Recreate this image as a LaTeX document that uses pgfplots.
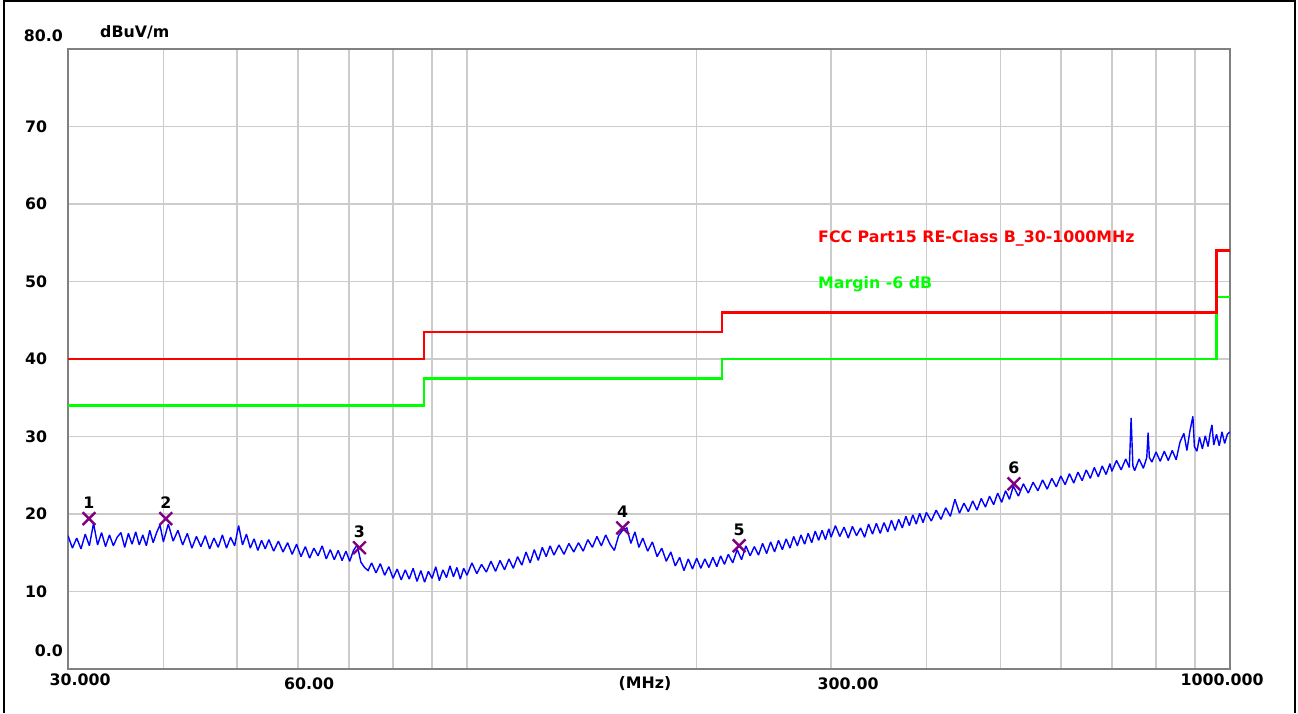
\documentclass[border=0pt]{standalone}
\usepackage{pgfplots}
\pgfplotsset{compat=1.18}
\usepackage{fontspec}
\setmainfont{DejaVu Sans}
\definecolor{gridgray}{RGB}{204,204,204}
\definecolor{framegray}{RGB}{128,128,128}
\definecolor{mk}{RGB}{128,0,128}
\definecolor{limred}{RGB}{255,0,0}
\definecolor{limgreen}{RGB}{0,255,0}
\definecolor{trace}{RGB}{0,0,255}
\begin{document}
\begin{tikzpicture}[lbl/.style={font=\bfseries\fontsize{15.8}{18}\selectfont, inner sep=0pt}]
\useasboundingbox (0pt,0pt) rectangle (1298pt,713pt);
\fill[white] (0pt,0pt) rectangle (1298pt,713pt);
\draw[black, line width=2.5pt] (4pt,0pt) -- (4pt,712pt) -- (1295pt,712pt) -- (1295pt,0pt);
\begin{axis}[
  scale only axis, width=1162pt, height=620pt,
  at={(68pt,44pt)}, anchor=south west,
  xmode=log, xmin=30, xmax=1000, ymin=0, ymax=80,
  xtick={30,40,50,60,70,80,90,100,200,300,400,500,600,700,800,900,1000},
  ytick={0,10,20,30,40,50,60,70,80},
  xticklabels={}, yticklabels={},
  major tick length=0pt, minor tick length=0pt,
  grid=major,
  major grid style={draw=gridgray, line width=1.6pt},
  axis line style={draw=framegray, line width=2.8pt},
]
\addplot[limgreen, line width=2.4pt] coordinates {(30,34)(87.9,34)(87.9,37.5)(216,37.5)(216,40)(960,40)(960,48)(1000,48)};
\addplot[limred, line width=2.4pt] coordinates {(30,40)(87.9,40)(87.9,43.5)(216,43.5)(216,46)(960,46)(960,54)(1000,54)};
\addplot[trace, line width=1.4pt, line join=miter, miter limit=2] coordinates {
(30.0,17.2)(30.4,15.6)(30.8,16.9)(31.2,15.5)(31.6,17.4)(32.0,15.9)(32.4,18.8)(32.8,16.0)(33.2,17.6)(33.6,15.8)
(34.0,17.3)(34.4,15.9)(34.8,17.0)(35.2,17.6)(35.6,15.7)(36.0,17.5)(36.4,16.1)(36.8,17.7)(37.2,16.0)(37.6,17.3)
(38.0,15.9)(38.4,17.9)(38.8,16.3)(39.2,17.6)(39.6,18.6)
(40.0,16.4)(40.6,18.7)(41.2,16.5)(41.8,17.9)(42.4,16.0)(43.0,17.5)(43.6,15.6)(44.2,17.1)(44.8,15.8)(45.4,17.2)
(46.0,15.5)(46.6,16.9)(47.2,15.7)(47.8,17.3)(48.4,15.6)(49.0,17.0)(49.6,15.9)(50.2,18.5)(50.8,16.0)(51.4,17.4)
(52.0,15.6)(52.6,16.8)(53.2,15.3)(53.8,16.6)(54.4,15.5)
(55.0,16.7)(55.8,15.2)(56.6,16.5)(57.4,15.1)(58.2,16.3)(59.0,14.8)(59.8,16.1)(60.6,14.5)(61.4,15.8)(62.2,14.3)
(63.0,15.6)(63.8,14.6)(64.6,15.9)(65.4,14.2)(66.2,15.4)(67.0,14.1)(67.8,15.3)(68.6,14.0)(69.4,15.2)(70.2,13.9)
(71.0,15.3)(71.8,16.0)(72.6,13.8)(73.4,13.1)(74.2,12.7)
(75,13.7)(76,12.4)(77,13.6)(78,12.1)(79,13.2)(80,11.7)(81,12.9)(82,11.5)(83,12.8)(84,11.6)
(85,13.0)(86,11.3)(87,12.7)(88,11.2)(89,12.6)(90,11.7)(91,13.2)(92,11.4)(93,12.8)(94,11.8)
(95,13.3)(96,11.9)(97,13.1)(98,11.6)(99,13.0)
(100,12.1)(101.5,13.7)(103,12.3)(104.5,13.5)(106,12.5)(107.5,13.9)(109,12.6)(110.5,14.0)(112,12.8)(113.5,14.2)
(115,13.0)(116.5,14.5)(118,13.4)(119.5,15.1)(121,13.7)(122.5,15.4)(124,14.0)(125.5,15.7)(127,14.5)(128.5,15.9)
(130,14.7)(132,16.0)(134,14.8)(136,16.2)(138,15.1)(140,16.3)(142,15.2)(144,16.7)(146,15.7)(148,17.1)
(150,15.9)(152,17.3)(154,16.1)(156,15.3)(158,17.2)(160,17.9)(162,18.2)(164,16.2)(166,17.7)(168,15.7)
(170,16.9)(172.5,15.2)(175,16.4)(177.5,14.5)(180,15.6)(182.5,13.9)(185,15.1)(187.5,13.3)(190,14.4)(192.5,12.7)
(195,14.2)(197.5,12.9)(200,14.3)(202.5,13.0)(205,14.2)(207.5,13.1)(210,14.4)(212.5,13.2)(215,14.6)(217.5,13.5)
(220,14.8)(223,13.7)(226,15.4)(229,14.1)(232,15.9)(235,14.6)(238,15.8)(241,14.7)(244,16.2)(247,14.9)
(250,16.4)(253,15.1)(256,16.6)(259,15.4)(262,16.8)(265,15.6)(268,17.1)(271,15.9)(274,17.3)(277,16.1)
(280,17.5)(283,16.3)(286,17.8)(289,16.6)(292,17.9)(295,16.7)(298,18.1)
(300,17.0)(304,18.5)(308,17.1)(312,18.3)(316,16.9)(320,18.4)(324,17.2)(328,18.2)(332,17.0)(336,18.7)
(340,17.4)(344,18.8)(348,17.5)(352,18.9)(356,17.7)(360,19.2)(364,17.9)(368,19.3)(372,18.2)(376,19.7)
(380,18.5)(384,19.9)(388,18.7)(392,20.1)(396,18.9)
(400,20.2)(406,19.1)(412,20.5)(418,19.3)(424,20.8)(430,19.7)(436,21.9)(442,20.1)(448,21.4)(454,20.3)
(460,21.7)(466,20.5)(472,22.0)(478,20.9)(484,22.3)(490,21.2)(496,22.7)(502,21.5)(508,23.0)(514,21.9)
(520,23.6)(528,22.3)(536,23.9)(544,22.7)(552,24.1)(560,23.0)(568,24.4)(576,23.2)(584,24.6)(592,23.5)
(600,24.9)(608,23.8)(616,25.2)(624,24.0)(632,25.4)(640,24.3)(648,25.7)(656,24.6)(664,26.0)(672,24.8)
(680,26.2)(688,25.1)(696,26.5)
(700,25.5)(710,26.9)(720,25.7)(730,27.1)(738,26.0)(742,32.4)(746,26.2)(750,25.6)(760,27.1)(770,25.9)
(778,27.3)(781,30.5)(784,27.3)(790,26.7)(800,28.0)(810,26.8)(820,28.1)(830,26.9)(840,28.2)(850,27.0)
(860,29.3)(870,30.4)(878,28.2)(886,30.7)(894,32.6)(898,28.7)(905,28.1)(912,29.9)(920,28.4)(928,30.1)
(936,28.7)(942,30.5)(947,31.5)(952,28.9)(960,30.3)(968,28.8)(976,30.6)(984,29.1)(992,30.3)(1000,30.6)
};
\addplot[mk, only marks, mark=x, mark size=9pt, mark options={line width=2.4pt}] coordinates {
(31.96,19.4)(40.3,19.4)(72.3,15.65)(160.0,18.2)(227.3,15.9)(521,23.9)};
\node[lbl] at (axis cs:31.96,19.4) [yshift=16pt] {1};
\node[lbl] at (axis cs:40.3,19.4) [yshift=16pt] {2};
\node[lbl] at (axis cs:72.3,15.65) [yshift=16pt] {3};
\node[lbl] at (axis cs:160.0,18.2) [yshift=16pt] {4};
\node[lbl] at (axis cs:227.3,15.9) [yshift=16pt] {5};
\node[lbl] at (axis cs:521,23.9) [yshift=16pt] {6};
\end{axis}
% y labels
\node[lbl, anchor=east] at (63pt,677pt) {80.0};
\node[lbl, anchor=base west] at (100pt,675.5pt) {dBuV/m};
\node[lbl, anchor=west] at (25pt,586.5pt) {70};
\node[lbl, anchor=west] at (25pt,509pt) {60};
\node[lbl, anchor=west] at (25pt,431.5pt) {50};
\node[lbl, anchor=west] at (25pt,354pt) {40};
\node[lbl, anchor=west] at (25pt,276.5pt) {30};
\node[lbl, anchor=west] at (25pt,199pt) {20};
\node[lbl, anchor=west] at (25pt,121.5pt) {10};
\node[lbl, anchor=east] at (63pt,62pt) {0.0};
% x labels
\node[lbl] at (80pt,33pt) {30.000};
\node[lbl] at (309pt,29.5pt) {60.00};
\node[lbl, anchor=base] at (645pt,25pt) {(MHz)};
\node[lbl] at (848pt,29.5pt) {300.00};
\node[lbl] at (1222pt,33pt) {1000.000};
% limit legends
\node[lbl, anchor=base west, text=limred] at (818pt,470pt) {FCC Part15 RE-Class B\_30-1000MHz};
\node[lbl, anchor=base west, text=limgreen] at (818pt,424pt) {Margin -6 dB};
\end{tikzpicture}
\end{document}
